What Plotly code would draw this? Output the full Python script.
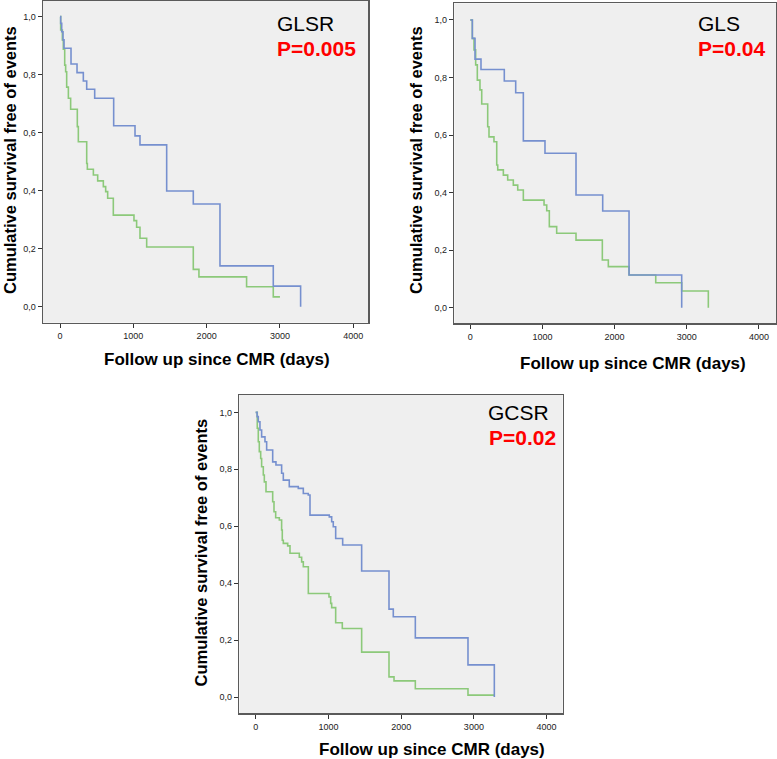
import plotly.graph_objects as go

# ---------------- data ----------------
# Panel 1: GLSR
glsr_blue_t = [0, 9, 23, 41, 55, 150, 232, 318, 364, 473, 732, 1023, 1091, 1455, 1818, 2182, 2909, 3282]
glsr_blue_s = [1.0, 0.977, 0.948, 0.92, 0.891, 0.837, 0.807, 0.778, 0.75, 0.719, 0.624, 0.589, 0.558, 0.399, 0.354, 0.141, 0.071, 0.0]
glsr_green_t = [0, 9, 32, 45, 64, 77, 91, 114, 145, 236, 250, 364, 373, 455, 514, 591, 623, 650, 727,
                1009, 1045, 1091, 1182, 1818, 1895, 2545, 2909, 3000]
glsr_green_s = [1.0, 0.954, 0.92, 0.888, 0.833, 0.81, 0.757, 0.719, 0.681, 0.621, 0.569, 0.494, 0.474, 0.454,
                0.434, 0.414, 0.397, 0.374, 0.316, 0.297, 0.274, 0.236, 0.206, 0.129, 0.103, 0.069, 0.034, 0.034]

# Panel 2: GLS
gls_blue_t = [0, 28, 65, 148, 471, 629, 735, 1035, 1465, 1835, 2200, 2930]
gls_blue_s = [1.0, 0.936, 0.864, 0.828, 0.788, 0.747, 0.58, 0.537, 0.392, 0.336, 0.114, 0.0]
gls_green_t = [0, 28, 51, 74, 97, 134, 158, 241, 259, 328, 366, 380, 458, 518, 596, 657, 735,
               1022, 1059, 1095, 1197, 1465, 1830, 1913, 2200, 2570, 2930, 3299]
gls_green_s = [1.0, 0.936, 0.896, 0.844, 0.791, 0.757, 0.708, 0.629, 0.594, 0.577, 0.496, 0.479, 0.461,
               0.444, 0.426, 0.409, 0.374, 0.357, 0.337, 0.282, 0.259, 0.235, 0.166, 0.143, 0.114, 0.087, 0.058, 0.0]

# Panel 3: GCSR
gcsr_blue_t = [0, 20, 36, 59, 82, 128, 151, 234, 279, 357, 380, 462, 586, 655, 723, 747, 1012, 1045, 1067,
               1100, 1196, 1457, 1833, 1892, 2195, 2919, 3281]
gcsr_blue_s = [1.0, 0.985, 0.967, 0.938, 0.914, 0.897, 0.868, 0.826, 0.815, 0.786, 0.762, 0.739, 0.733, 0.715,
               0.71, 0.639, 0.633, 0.616, 0.598, 0.557, 0.534, 0.443, 0.309, 0.282, 0.208, 0.113, 0.0]
gcsr_green_t = [0, 22, 36, 50, 69, 82, 105, 119, 142, 234, 252, 275, 325, 357, 366, 380, 440, 472, 600, 632,
                655, 724, 1008, 1031, 1045, 1100, 1191, 1457, 1833, 1902, 2195, 2919, 3281]
gcsr_green_s = [1.0, 0.944, 0.897, 0.862, 0.838, 0.809, 0.78, 0.756, 0.721, 0.686, 0.651, 0.63, 0.622, 0.587,
                0.551, 0.54, 0.531, 0.505, 0.491, 0.475, 0.458, 0.364, 0.352, 0.329, 0.314, 0.261, 0.241, 0.158,
                0.071, 0.057, 0.029, 0.007, 0.007]

panel_names = ["GLSR", "GLS", "GCSR"]
p_values = ["P=0.005", "P=0.04", "P=0.02"]

x_tickvals = [0, 1000, 2000, 3000, 4000]
x_ticktext = ["0", "1000", "2000", "3000", "4000"]
y_tickvals = [0.0, 0.2, 0.4, 0.6, 0.8, 1.0]
y_ticktext = ["0,0", "0,2", "0,4", "0,6", "0,8", "1,0"]

x_title = "Follow up since CMR (days)"
y_title = "Cumulative survival free of events"

# ---------------- layout helpers ----------------
W, H = 777, 759
FONT = "Liberation Sans, Arial, sans-serif"
BLUE = "#7690cf"
GREEN = "#8cc97a"

def px_x(p):
    return p / W

def px_y(p):
    return 1 - p / H

# plot frames in pixels: left, right, top, bottom
frames = [(43, 368, 1, 322.7), (454.3, 776, 3.3, 323.3), (239.3, 562.7, 395, 713.3)]
xranges = [[-232, 4201], [-222, 4237], [-225, 4221]]
yranges = [[-0.055, 1.054], [-0.054, 1.058], [-0.057, 1.061]]

series = [
    (glsr_blue_t, glsr_blue_s, glsr_green_t, glsr_green_s),
    (gls_blue_t, gls_blue_s, gls_green_t, gls_green_s),
    (gcsr_blue_t, gcsr_blue_s, gcsr_green_t, gcsr_green_s),
]

# annotation positions (pixels)
name_pos = [(275, 23.3), (696, 23.3), (486, 412.3)]
p_pos = [(275, 48.3), (696, 48.3), (486.5, 437.3)]
xt_pos = [(216.5, 360), (632.5, 363.3), (431.7, 749)]
yt_pos = [(10, 160), (416, 160), (200.5, 553)]

fig = go.Figure()
annotations = []
for i in range(3):
    xa = "x" if i == 0 else f"x{i+1}"
    ya = "y" if i == 0 else f"y{i+1}"
    bt, bs, gt, gs = series[i]
    fig.add_trace(go.Scatter(x=gt, y=gs, mode="lines", line=dict(color=GREEN, width=1.6, shape="hv"),
                             xaxis=xa, yaxis=ya, showlegend=False, hoverinfo="skip"))
    fig.add_trace(go.Scatter(x=bt, y=bs, mode="lines", line=dict(color=BLUE, width=1.6, shape="hv"),
                             xaxis=xa, yaxis=ya, showlegend=False, hoverinfo="skip"))
    l, r, t, b = frames[i]
    axkw = dict(showline=True, linecolor="#5a5a5a", linewidth=1.5, mirror=True, showgrid=False,
                zeroline=False, ticks="outside", ticklen=4, tickwidth=1, tickcolor="#333",
                tickfont=dict(family=FONT, size=9, color="#222"))
    fig.update_layout(**{
        ("xaxis" if i == 0 else f"xaxis{i+1}"): dict(domain=[px_x(l), px_x(r)], range=xranges[i],
                                                      anchor=ya, tickvals=x_tickvals, ticktext=x_ticktext, **axkw),
        ("yaxis" if i == 0 else f"yaxis{i+1}"): dict(domain=[px_y(b), px_y(t)], range=yranges[i],
                                                      anchor=xa, tickvals=y_tickvals, ticktext=y_ticktext, **axkw),
    })
    annotations.append(dict(text=panel_names[i], x=px_x(name_pos[i][0]), y=px_y(name_pos[i][1]),
                            xref="paper", yref="paper", xanchor="left", yanchor="middle", showarrow=False,
                            font=dict(family=FONT, size=21, color="#000")))
    annotations.append(dict(text="<b>" + p_values[i] + "</b>", x=px_x(p_pos[i][0]), y=px_y(p_pos[i][1]),
                            xref="paper", yref="paper", xanchor="left", yanchor="middle", showarrow=False,
                            font=dict(family=FONT, size=21, color="#ff0000")))
    annotations.append(dict(text="<b>" + x_title + "</b>", x=px_x(xt_pos[i][0]), y=px_y(xt_pos[i][1]),
                            xref="paper", yref="paper", xanchor="center", yanchor="middle", showarrow=False,
                            font=dict(family=FONT, size=17, color="#000")))
    annotations.append(dict(text="<b>" + y_title + "</b>", x=px_x(yt_pos[i][0]), y=px_y(yt_pos[i][1]),
                            xref="paper", yref="paper", xanchor="center", yanchor="middle", showarrow=False,
                            textangle=-90, borderpad=0, font=dict(family=FONT, size=16.5, color="#000")))

fig.update_layout(width=W, height=H, margin=dict(l=0, r=0, t=0, b=0),
                  paper_bgcolor="white", plot_bgcolor="#efefef",
                  annotations=annotations)

fig.write_html("out.html", config={"displayModeBar": False, "staticPlot": True},
               post_script="document.body.style.margin='0';document.body.style.overflow='hidden';")
